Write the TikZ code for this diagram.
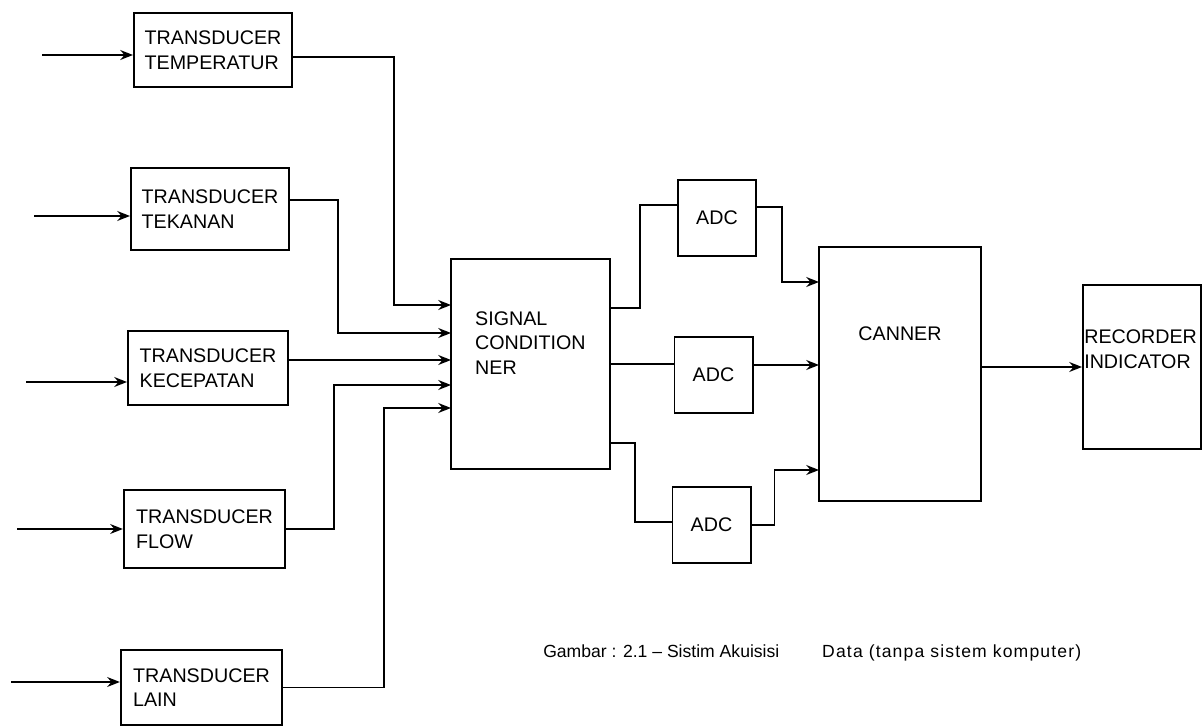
\documentclass[tikz,border=0pt]{standalone}
\usepackage{fontspec}
\setmainfont{Liberation Sans}
\usetikzlibrary{positioning,arrows.meta,calc}

\begin{document}
\begin{tikzpicture}[
    x=0.025cm,y=-0.025cm,
    box/.style={draw,line width=1.4pt,align=left,inner sep=0pt,font=\fontsize{14}{17.5}\selectfont},
    txt/.style={inner sep=0pt,align=left,font=\fontsize{14}{17.5}\selectfont},
    arrow/.style={-{Stealth[length=9pt,width=7pt]},line width=1.4pt},
    line/.style={line width=1.4pt}
  ]
    \useasboundingbox (0,0) rectangle (1204,727);

    % transducers
    \node[box,minimum width=3.95cm,minimum height=1.85cm] (tT) at (213,50) {TRANSDUCER\\TEMPERATUR};
    \node[box,minimum width=3.95cm,minimum height=2.05cm] (tP) at (210,209) {TRANSDUCER\\TEKANAN};
    \node[box,minimum width=4cm,minimum height=1.85cm] (tV) at (208,368) {TRANSDUCER\\KECEPATAN};
    \node[box,minimum width=4.03cm,minimum height=1.95cm] (tF) at (204.5,529) {TRANSDUCER\\FLOW};
    \node[box,minimum width=4.03cm,minimum height=1.88cm] (tL) at (201.5,687.5) {TRANSDUCER\\LAIN};

    \node[box,minimum width=3.98cm,minimum height=5.25cm] (sc) at (530.5,364) {};
    \node[txt,below right=1.325cm and 0.625cm of sc.north west] (scT) {SIGNAL\\CONDITION\\NER};

    \node[box,minimum width=1.95cm,minimum height=1.9cm] (adcA) at (717,218) {ADC};
    \node[box,minimum width=1.95cm,minimum height=1.9cm] (adcB) at (713.5,375) {ADC};
    \node[box,minimum width=1.95cm,minimum height=1.9cm] (adcC) at (711.5,525) {ADC};

    \node[box,minimum width=4.05cm,minimum height=6.35cm] (scan) at (900,374) {};
    \node[txt,below=2cm of scan.north] (scanT) {CANNER};

    \node[box,minimum width=2.95cm,minimum height=4.08cm] (rec) at (1142,367) {};
    \node[txt,below right=1.125cm and 0.05cm of rec.north west] (recT) {RECORDER\\INDICATOR};

    % inputs
    \foreach \n/\x/\y in {T/42/55,P/34/216,V/26/382,F/17/529,L/11/682} {
      \coordinate (in\n) at (\x,\y);
      \draw[arrow] (in\n) -- (in\n -| t\n.west);
    }

    \foreach \n/\y in {1/305,2/333,3/360,4/385,5/408}
      \coordinate (s\n) at (451,\y);
    \foreach \n/\y in {1/282,2/365,3/470}
      \coordinate (c\n) at (819,\y);

    \draw[arrow] ([yshift=-0.175cm]tT.east) -- ++(101,0) |- (s1);
    \draw[arrow] ([yshift=0.225cm]tP.east) -- ++(48,0) |- (s2);
    \draw[arrow] ([yshift=0.2cm]tV.east) -- (s3);
    \draw[arrow] (tF.east) -- ++(48,0) |- (s4);
    \draw[arrow] (tL.east) -- ++(101,0) |- (s5);

    \draw[line] ([yshift=1.4cm]sc.east) -- ++(29,0) |- ([yshift=0.325cm]adcA.west);
    \draw[line] (sc.east) -- (sc.east -| adcB.west);
    \draw[line] ([yshift=-1.975cm]sc.east) -- ++(24,0) |- ([yshift=0.075cm]adcC.west);

    \draw[arrow] ([yshift=0.275cm]adcA.east) -- ++(25,0) |- (c1);
    \draw[arrow] ([yshift=0.25cm]adcB.east) -- (c2);
    \draw[arrow] (adcC.east) -- ++(23,0) |- (c3);

    \draw[arrow] ([yshift=0.175cm]scan.east) -- (rec.west);

    \node[anchor=base west,inner sep=0pt,font=\fontsize{12.5}{15}\selectfont] (cap) at (543,657)
      {Gambar : 2.1 – Sistim Akuisisi\hspace{0.95cm} {\addfontfeatures{LetterSpace=6.5}Data (tanpa sistem komputer)}};
  \end{tikzpicture}
\end{document}
